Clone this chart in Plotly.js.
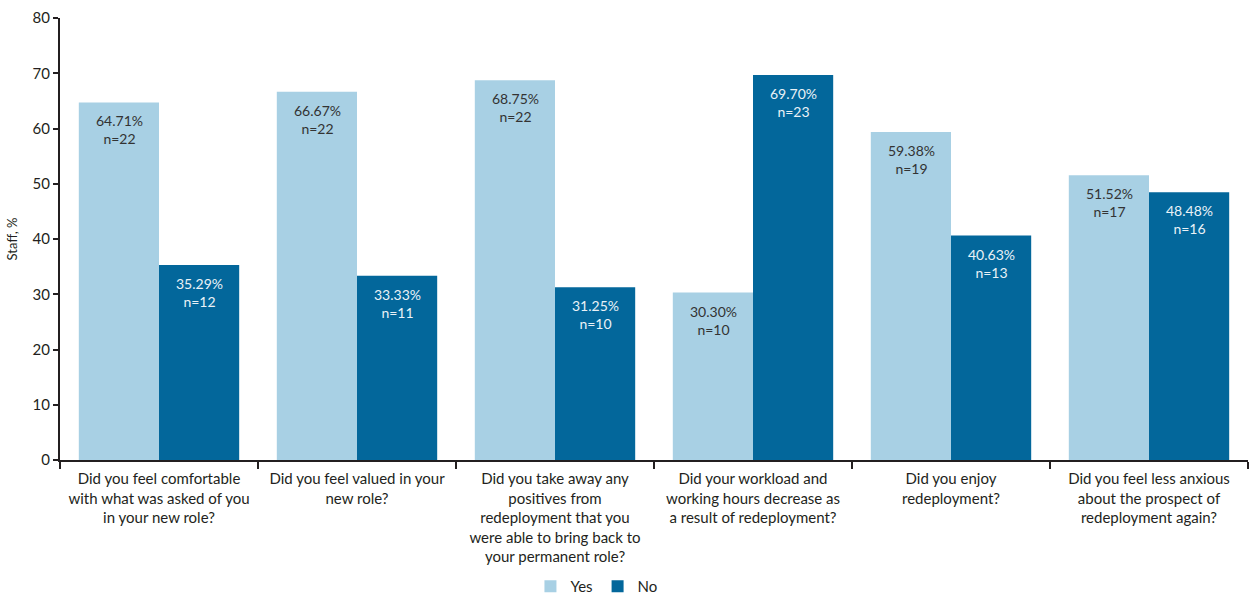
<!DOCTYPE html>
<html>
<head>
<meta charset="utf-8">
<script src="https://cdn.plot.ly/plotly-3.0.1.min.js"></script>
<style>html,body{margin:0;padding:0;background:#fff;}#chart{width:1249px;height:596px;}</style>
</head>
<body>
<div id="chart"></div>
<script>
const categories = [
  "Did you feel comfortable<br>with what was asked of you<br>in your new role?",
  "Did you feel valued in your<br>new role?",
  "Did you take away any<br>positives from<br>redeployment that you<br>were able to bring back to<br>your permanent role?",
  "Did your workload and<br>working hours decrease as<br>a result of redeployment?",
  "Did you enjoy<br>redeployment?",
  "Did you feel less anxious<br>about the prospect of<br>redeployment again?"
];
const yesValues = [64.71, 66.67, 68.75, 30.30, 59.38, 51.52];
const noValues  = [35.29, 33.33, 31.25, 69.70, 40.63, 48.48];
const yesN = [22, 22, 22, 10, 19, 17];
const noN  = [12, 11, 10, 23, 13, 16];
const yTicks = [0, 10, 20, 30, 40, 50, 60, 70, 80];

const yesColor = "#a8d0e4";
const noColor = "#03679b";
const font = "Lato, 'Open Sans', sans-serif";

const traces = [
  {type: "bar", name: "Yes", x: categories, y: yesValues, marker: {color: yesColor}, hoverinfo: "none"},
  {type: "bar", name: "No", x: categories, y: noValues, marker: {color: noColor}, hoverinfo: "none"}
];

const annotations = [];
categories.forEach((c, i) => {
  annotations.push({x: c, y: yesValues[i], xref: "x", yref: "y", xshift: -40, yshift: -8,
    yanchor: "top", showarrow: false, text: yesValues[i].toFixed(2) + "%<br>n=" + yesN[i],
    font: {family: font, size: 14, color: "#333333"}});
  annotations.push({x: c, y: noValues[i], xref: "x", yref: "y", xshift: 40, yshift: -8,
    yanchor: "top", showarrow: false, text: noValues[i].toFixed(2) + "%<br>n=" + noN[i],
    font: {family: font, size: 14, color: "#eaf2f7"}});
});

const layout = {
  width: 1249, height: 596,
  margin: {l: 60, r: 1, t: 18, b: 136, autoexpand: false},
  paper_bgcolor: "#fff", plot_bgcolor: "#fff",
  barmode: "group", bargap: 0.19, bargroupgap: 0,
  font: {family: font, size: 14, color: "#231f20"},
  showlegend: true,
  legend: {orientation: "h", x: 0.396, xanchor: "left", y: -0.286, yanchor: "middle",
    font: {family: font, size: 15, color: "#231f20"}, borderwidth: 0},
  xaxis: {
    type: "category", showline: true, linecolor: "#231f20", linewidth: 2,
    ticks: "outside", tickson: "boundaries", ticklen: 7, tickwidth: 2, tickcolor: "#231f20",
    showgrid: false, zeroline: false, tickfont: {family: font, size: 15, color: "#231f20"},
    ticklabelstandoff: 4, automargin: false, fixedrange: true
  },
  yaxis: {
    range: [0, 80], tickvals: yTicks, showline: true, linecolor: "#231f20", linewidth: 2,
    ticks: "outside", ticklen: 5, tickwidth: 2, tickcolor: "#231f20",
    showgrid: false, zeroline: false, tickfont: {family: font, size: 15, color: "#231f20"},
    title: {text: "Staff, %", font: {family: font, size: 13, color: "#231f20"}, standoff: 12},
    automargin: false, fixedrange: true
  },
  annotations: annotations
};

Plotly.newPlot("chart", traces, layout, {displayModeBar: false, staticPlot: true});
</script>
</body>
</html>
